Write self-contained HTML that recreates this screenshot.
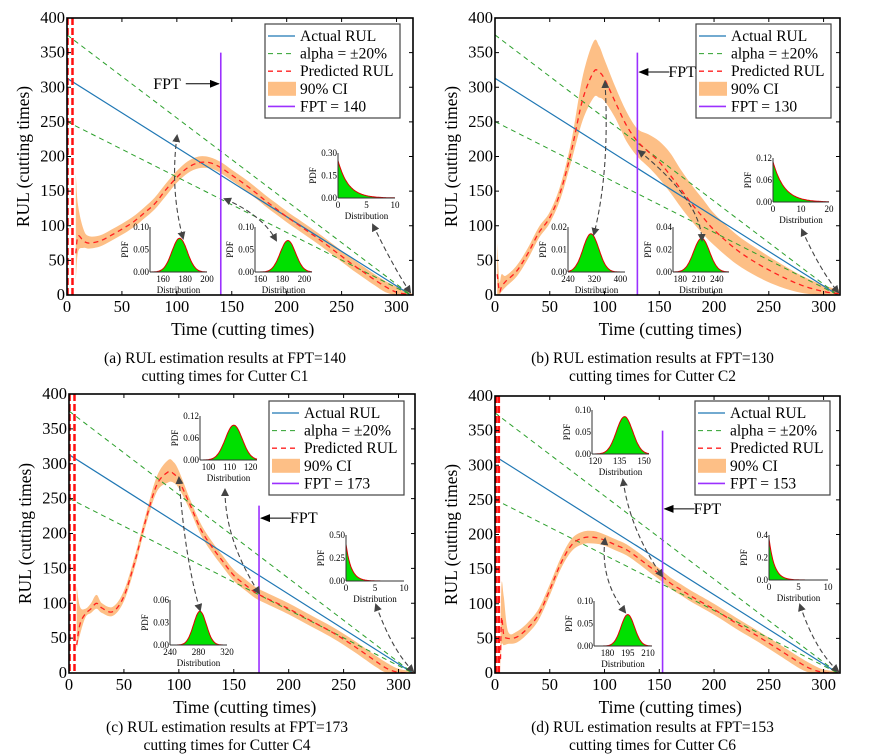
<!DOCTYPE html>
<html><head><meta charset="utf-8"><style>
html,body{margin:0;padding:0;background:#fff}
svg{display:block;font-family:"Liberation Serif",serif}
</style></head><body>
<svg id="fig" width="870" height="756" viewBox="0 0 870 756" xmlns="http://www.w3.org/2000/svg">
<defs>
<marker id="ah" markerWidth="8" markerHeight="8" refX="6" refY="4" orient="auto-start-reverse" markerUnits="userSpaceOnUse"><path d="M0,0 L8,4 L0,8 z" fill="#444"/></marker>
<marker id="bh" markerWidth="10" markerHeight="8" refX="9" refY="4" orient="auto" markerUnits="userSpaceOnUse"><path d="M0,0 L10,4 L0,8 z" fill="#000"/></marker>
</defs>
</svg>
<script>
// ---- data: panel (a) C1
const tA   =[8,10,15,20,30,40,50,60,70,80,90,100,110,120,130,140,150,160,170,180,190,200,210,220,230,240,250,260,270,280,290,300,310,314];
const predA=[60,85,78,75,78,86,95,105,118,132,152,170,184,191,191,184,173,162,150,137,125,113,102,91,80,68,56,44,33,22,12,4,1,0];
const loA  =[20,62,68,67,70,78,87,97,110,124,143,162,176,183,183,176,165,154,142,129,117,105,94,83,72,60,48,36,25,14,4,0,0,0];
const hiA  =[175,130,95,85,86,94,103,113,126,141,161,179,193,200,199,192,181,170,158,145,133,121,110,99,88,76,64,52,41,30,20,12,5,2];
// panel (b) C2
const tB   =[2,4,6,10,20,30,40,50,60,70,80,90,95,100,110,120,130,140,150,160,170,180,190,200,220,240,260,280,300,314];
const predB=[30,5,12,20,35,60,90,112,150,210,282,322,322,312,278,245,222,207,192,173,152,131,112,94,66,45,28,14,5,2];
const loB  =[0,0,5,12,27,52,82,104,140,195,252,285,285,280,255,222,200,185,168,148,126,106,88,72,45,26,12,3,0,0];
const hiB  =[75,20,30,28,43,68,98,120,160,225,315,366,360,340,300,265,240,232,222,205,180,158,138,118,88,66,46,28,14,8];
// panel (c) C4
const tC   =[7,10,15,20,25,30,40,50,60,70,80,90,95,100,110,120,130,140,150,160,170,180,200,220,240,260,280,290,300,314];
const predC=[40,70,85,92,100,93,88,110,160,220,270,288,286,276,242,206,181,160,140,127,115,107,92,75,58,38,16,6,1,0];
const loC  =[35,55,80,86,92,86,82,103,152,212,260,273,273,265,234,198,173,152,132,119,107,99,84,67,50,30,8,0,0,0];
const hiC  =[125,95,92,100,112,100,95,118,168,228,282,305,303,290,250,214,189,168,148,135,123,115,100,83,66,46,24,14,6,2];
// panel (d) C6
const tD   =[5,6,8,12,20,30,40,50,60,70,80,90,100,110,120,130,140,150,160,170,180,200,220,240,260,280,290,300,314];
const predD=[20,80,55,50,52,65,85,120,158,185,195,196,192,185,178,167,155,143,130,120,110,92,72,53,33,13,5,1,0];
const loD  =[0,40,40,42,44,57,77,112,150,176,186,187,184,177,170,159,147,135,122,112,102,84,64,45,25,5,0,0,0];
const hiD  =[60,130,110,60,60,73,93,128,166,194,204,205,200,193,186,175,163,151,138,128,118,100,80,61,41,21,12,5,2];
// actual RUL end-of-life and FPT
const eolVals=[313,313,313,313];
const fptVals=[140,130,173,153];
const fptTop=[350,350,240,350];
const fptArrowY=[305,322,222,237];
// inset distribution params: [mean, sd, peak] for gaussian; [0, scale, peak] for exponential
const gaussA1=[175,7,0.075], gaussA2=[185,7,0.07], expA=[0,1.8,0.25];
const gaussB1=[310,24,0.017], gaussB2=[215,13,0.03], expB=[0,4,0.11];
const gaussC1=[112,4,0.095], gaussC2=[282,9,0.045], expC=[0,0.9,0.4];
const gaussD1=[138,5,0.085], gaussD2=[195,5,0.07], expD=[0,0.9,0.37];

const NS="http://www.w3.org/2000/svg";
const svg=document.getElementById('fig');
function mk(tag,attrs,parent){const e=document.createElementNS(NS,tag);for(const k in attrs)e.setAttribute(k,attrs[k]);(parent||svg).appendChild(e);return e;}
function smooth(pts){let d="M"+pts[0][0].toFixed(1)+","+pts[0][1].toFixed(1);
 for(let i=0;i<pts.length-1;i++){const p0=pts[Math.max(0,i-1)],p1=pts[i],p2=pts[i+1],p3=pts[Math.min(pts.length-1,i+2)];
 const c1=[p1[0]+(p2[0]-p0[0])/6,p1[1]+(p2[1]-p0[1])/6],c2=[p2[0]-(p3[0]-p1[0])/6,p2[1]-(p3[1]-p1[1])/6];
 d+=" C"+c1[0].toFixed(1)+","+c1[1].toFixed(1)+" "+c2[0].toFixed(1)+","+c2[1].toFixed(1)+" "+p2[0].toFixed(1)+","+p2[1].toFixed(1);}return d;}

const panels=[
 {id:'a',x0:67,x1:413,yt:18,yb:295,t:tA,p:predA,lo:loA,hi:hiA,spikes:[0.5,5],cap:["(a) RUL estimation results at FPT=140","cutting times for Cutter C1"],capY:363,leg:[265,24],fptDir:1,
  insets:[{b:[150,207,227,272],xr:[148,200],xt:[160,180,200],yt:["0.00","0.05","0.10"],ym:0.1,g:gaussA1},
          {b:[255,312,227,272],xr:[155,207],xt:[160,180,200],yt:["0.00","0.05","0.10"],ym:0.1,g:gaussA2},
          {b:[338,395,153,198],xr:[0,10],xt:[0,5,10],yt:["0.00","0.15","0.30"],ym:0.3,e:expA}],
  arrows:[[177,136,170,190,183,238],[225,199,262,215,276,240],[373,225,395,270,410,292]]},
 {id:'b',x0:495,x1:840,yt:18,yb:295,t:tB,p:predB,lo:loB,hi:hiB,spikes:[],cap:["(b) RUL estimation results at FPT=130","cutting times for Cutter C2"],capY:363,leg:[696,24],fptDir:-1,
  insets:[{b:[568,625,227,272],xr:[240,414],xt:[240,320,400],yt:["0.00","0.01","0.02"],ym:0.02,g:gaussB1},
          {b:[673,729,227,272],xr:[168,260],xt:[180,210,240],yt:["0.00","0.02","0.04"],ym:0.04,g:gaussB2},
          {b:[773,829,158,202],xr:[0,20],xt:[0,10,20],yt:["0.00","0.06","0.12"],ym:0.12,e:expB}],
  arrows:[[605,82,610,170,594,234],[639,151,700,200,702,240],[802,230,820,270,838,292]]},
 {id:'c',x0:69,x1:415,yt:394,yb:673,t:tC,p:predC,lo:loC,hi:hiC,spikes:[0.5,5],cap:["(c) RUL estimation results at FPT=173","cutting times for Cutter C4"],capY:732,leg:[269,401],fptDir:-1,
  insets:[{b:[200,257,416,460],xr:[96,123],xt:[100,110,120],yt:["0.00","0.06","0.12"],ym:0.12,g:gaussC1},
          {b:[170,227,600,645],xr:[240,320],xt:[240,280,320],yt:["0.00","0.03","0.06"],ym:0.06,g:gaussC2},
          {b:[346,404,535,581],xr:[0,10],xt:[0,5,10],yt:["0.00","0.25","0.50"],ym:0.5,e:expC}],
  arrows:[[179,478,185,560,200,610],[225,490,225,540,259,593],[376,605,392,650,413,671]]},
 {id:'d',x0:495,x1:840,yt:396,yb:673,t:tD,p:predD,lo:loD,hi:hiD,spikes:[1,3.5],cap:["(d) RUL estimation results at FPT=153","cutting times for Cutter C6"],capY:732,leg:[695,401],fptDir:-1,
  insets:[{b:[592,649,410,454],xr:[118,153],xt:[120,135,150],yt:["0.00","0.05","0.10"],ym:0.1,g:gaussD1},
          {b:[594,652,601,646],xr:[170,213],xt:[180,195,210],yt:["0.00","0.05","0.10"],ym:0.1,g:gaussD2},
          {b:[769,828,535,580],xr:[0,10],xt:[0,5,10],yt:["0.0","0.2","0.4"],ym:0.4,e:expD}],
  arrows:[[605,539,600,580,625,612],[623,480,630,530,662,576],[800,605,815,650,838,671]]}
];

panels.forEach((P,pi)=>{
 const g=mk('g',{});
 
 
 const kx=(P.x1-P.x0)/315, X=t=>P.x0+t*kx;
 const Y=v=>P.yb-v*(P.yb-P.yt)/400;
 const cp=mk('clipPath',{id:'clip'+P.id},g);
 mk('rect',{x:P.x0,y:P.yt,width:P.x1-P.x0,height:P.yb-P.yt},cp);
 const pl=mk('g',{'clip-path':'url(#clip'+P.id+')'},g);
 const up=P.t.map((t,i)=>[X(t),Y(P.hi[i])]), dn=P.t.map((t,i)=>[X(t),Y(P.lo[i])]).reverse();
 const band=mk('path',{d:smooth(up)+" L"+dn[0][0]+","+dn[0][1]+smooth(dn).replace(/^M[^C]*/,' ')+" Z",fill:'#fdbf86',stroke:'none'},pl);
 
 
 const eol=eolVals[pi];
 const act=mk('line',{x1:X(0),y1:Y(eol),x2:X(eol),y2:Y(0),stroke:'#1f77b4','stroke-width':1.2},pl);
 
 
 [1.2,0.8].forEach(f=>{const l=mk('line',{x1:X(0),y1:Y(eol*f),x2:X(eol),y2:Y(0),stroke:'#2ca02c','stroke-width':1,'stroke-dasharray':'5,4'},pl);
  
  });
 const pr=mk('path',{d:smooth(P.t.map((t,i)=>[X(t),Y(P.p[i])])),fill:'none',stroke:'#ff2020','stroke-width':1.3,'stroke-dasharray':'5,4'},pl);
 
 
 P.spikes.forEach(t=>{const l=mk('line',{x1:X(t),y1:P.yt,x2:X(t),y2:P.yb,stroke:'#ff1010','stroke-width':2.5,'stroke-dasharray':'7,3'},pl);
  
  });
 const fx=X(fptVals[pi]);
 const fl=mk('line',{x1:fx,y1:Y(fptTop[pi]),x2:fx,y2:P.yb,stroke:'#9b30ff','stroke-width':1.6},g);
 
 
 const ay=Y(fptArrowY[pi]);
 if(P.fptDir>0){mk('line',{x1:fx-35,y1:ay,x2:fx-2,y2:ay,stroke:'#000','stroke-width':1,'marker-end':'url(#bh)'},g);
  const ft=mk('text',{x:fx-40,y:ay+5,'font-size':16,'text-anchor':'end'},g);ft.textContent='FPT';
  }
 else{mk('line',{x1:fx+32,y1:ay,x2:fx+2,y2:ay,stroke:'#000','stroke-width':1,'marker-end':'url(#bh)'},g);
  const ft=mk('text',{x:fx+31,y:ay+5,'font-size':16},g);ft.textContent='FPT';
  }
 const fr=mk('rect',{x:P.x0,y:P.yt,width:P.x1-P.x0,height:P.yb-P.yt,fill:'none',stroke:'#000','stroke-width':1.6},g);
 
 
 [0,50,100,150,200,250,300].forEach(t=>{mk('line',{x1:X(t),y1:P.yb,x2:X(t),y2:P.yb-4,stroke:'#000'},g);mk('line',{x1:X(t),y1:P.yt,x2:X(t),y2:P.yt+4,stroke:'#000'},g);
  const tl=mk('text',{x:X(t),y:P.yb+17,'font-size':16.5,'text-anchor':'middle'},g);tl.textContent=t;
  });
 [0,50,100,150,200,250,300,350,400].forEach(v=>{mk('line',{x1:P.x0,y1:Y(v),x2:P.x0+4,y2:Y(v),stroke:'#000'},g);mk('line',{x1:P.x1,y1:Y(v),x2:P.x1-4,y2:Y(v),stroke:'#000'},g);
  const tl=mk('text',{x:P.x0-2,y:Y(v)+5,'font-size':16.5,'text-anchor':'end'},g);tl.textContent=v;
  });
 const xt=mk('text',{x:X(160),y:P.yb+40,'font-size':17.5,'text-anchor':'middle'},g);xt.textContent='Time (cutting times)';
 
 const yx=P.x0-38, yy=(P.yt+P.yb)/2;
 const ytl=mk('text',{x:yx,y:yy,'font-size':17.5,'text-anchor':'middle',transform:'rotate(-90 '+yx+' '+yy+')'},g);ytl.textContent='RUL (cutting times)';
 
 P.cap.forEach((c,i)=>{const ct=mk('text',{x:(P.x0+P.x1)/2-15,y:P.capY+i*18,'font-size':15.5,'text-anchor':'middle'},g);ct.textContent=c;
  });
 const [lx,ly]=P.leg;
 const lg=mk('g',{},g);
 
 
 mk('rect',{x:lx,y:ly,width:135,height:94,fill:'#fff',stroke:'#444','stroke-width':1.2},lg);
 const labels=['Actual RUL','alpha = ±20%','Predicted RUL','90% CI','FPT = '+fptVals[pi]];
 labels.forEach((s,i)=>{const yy=ly+12+i*17.6;
  if(i==0)mk('line',{x1:lx+3,y1:yy,x2:lx+30,y2:yy,stroke:'#1f77b4','stroke-width':1.2},lg);
  if(i==1)mk('line',{x1:lx+3,y1:yy,x2:lx+30,y2:yy,stroke:'#2ca02c','stroke-dasharray':'5,4'},lg);
  if(i==2)mk('line',{x1:lx+3,y1:yy,x2:lx+30,y2:yy,stroke:'#ff2020','stroke-width':1.3,'stroke-dasharray':'5,4'},lg);
  if(i==3)mk('rect',{x:lx+3,y:yy-7,width:28,height:14,fill:'#fdbf86'},lg);
  if(i==4)mk('line',{x1:lx+3,y1:yy,x2:lx+30,y2:yy,stroke:'#9b30ff','stroke-width':1.6},lg);
  const lt=mk('text',{x:lx+35,y:yy+5,'font-size':15.5},lg);lt.textContent=s;
  });
 P.insets.forEach(I=>{
  const [a,b,t,bt]=I.b; const ig=mk('g',{},g);
  
  
  const IX=x=>a+(x-I.xr[0])/(I.xr[1]-I.xr[0])*(b-a), IY=v=>bt-v/I.ym*(bt-t);
  const pts=[];
  for(let k=0;k<=60;k++){const x=I.xr[0]+(I.xr[1]-I.xr[0])*k/60;let v;
   if(I.g){v=I.g[2]*Math.exp(-0.5*Math.pow((x-I.g[0])/I.g[1],2));}else{v=I.e[2]*Math.exp(-(x-I.e[0])/I.e[1]);}
   pts.push([IX(x),IY(v)]);}
  const d="M"+pts.map(p=>p[0].toFixed(1)+","+p[1].toFixed(1)).join(" L");
  const fl=mk('path',{d:d+" L"+b+","+bt+" L"+a+","+bt+" Z",fill:'#00e000'},ig);
  
  mk('path',{d:d,fill:'none',stroke:'#e00000','stroke-width':1},ig);
  mk('line',{x1:a,y1:t,x2:a,y2:bt,stroke:'#333','stroke-width':1},ig);
  mk('line',{x1:a,y1:bt,x2:b,y2:bt,stroke:'#333','stroke-width':1},ig);
  I.yt.forEach((s,k)=>{const tt=mk('text',{x:a-1,y:bt-k*(bt-t)/2+3,'font-size':9,'text-anchor':'end'},ig);tt.textContent=s;});
  I.xt.forEach(v=>{const tt=mk('text',{x:IX(v),y:bt+10,'font-size':9,'text-anchor':'middle'},ig);tt.textContent=v;});
  const dt=mk('text',{x:(a+b)/2,y:bt+21,'font-size':9,'text-anchor':'middle'},ig);dt.textContent='Distribution';
  const px=a-22,py=(t+bt)/2;
  const pt=mk('text',{x:px,y:py,'font-size':9,'text-anchor':'middle',transform:'rotate(-90 '+px+' '+py+')'},ig);pt.textContent='PDF';
 });
 P.arrows.forEach(A=>{const ar=mk('path',{d:'M'+A[0]+','+A[1]+' Q'+A[2]+','+A[3]+' '+A[4]+','+A[5],fill:'none',stroke:'#444','stroke-width':1.1,'stroke-dasharray':'5,3','marker-start':'url(#ah)','marker-end':'url(#ah)'},g);
  });
});
</script>
</body></html>
